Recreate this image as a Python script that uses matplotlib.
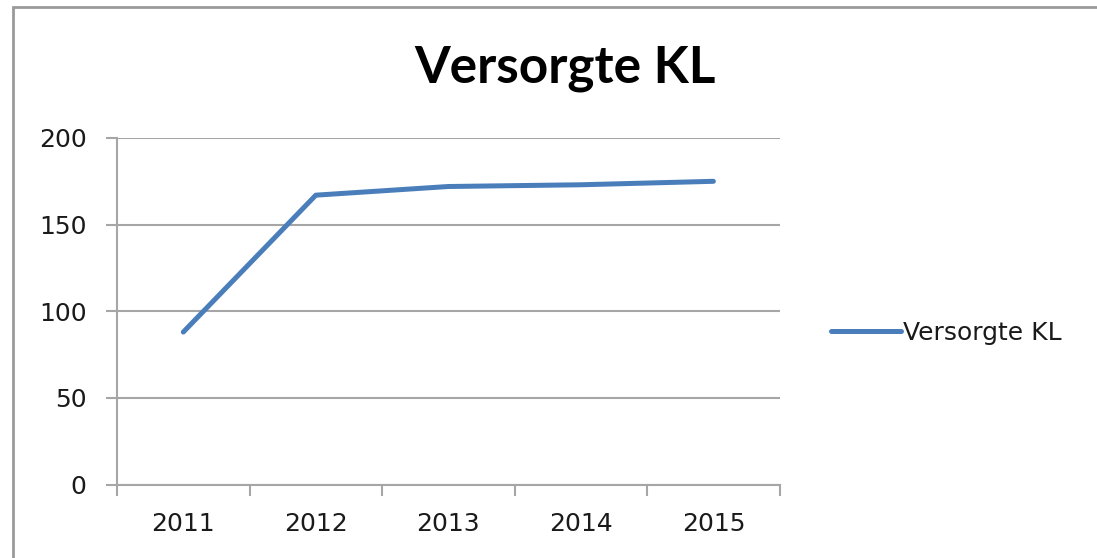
import matplotlib.pyplot as plt
from matplotlib.patches import Rectangle

# data
years = ["2011", "2012", "2013", "2014", "2015"]
versorgte_kl = [88, 167, 172, 173, 175]
y_ticks = [0, 50, 100, 150, 200]

line_color = "#4A7EBB"
grid_color = "#A6A6A6"
text_color = "#1A1A1A"

fig = plt.figure(figsize=(10.97, 5.58), dpi=100)
ax = fig.add_axes([0.1067, 0.1317, 0.604, 0.621])

x = list(range(len(years)))
ax.plot(x, versorgte_kl, color=line_color, lw=3.6, solid_capstyle="round",
        solid_joinstyle="round", label="Versorgte KL")

ax.set_xlim(-0.5, len(years) - 0.5)
ax.set_ylim(0, 200)
ax.set_yticks(y_ticks)
ax.set_xticks(x)
ax.set_xticklabels(years)
ax.set_xticks([i - 0.5 for i in range(len(years) + 1)], minor=True)

ax.grid(axis="y", color=grid_color, lw=1.5)
ax.set_axisbelow(True)
for s in ["top", "right"]:
    ax.spines[s].set_visible(False)
for s in ["left", "bottom"]:
    ax.spines[s].set_color(grid_color)
    ax.spines[s].set_linewidth(1.5)

ax.tick_params(axis="x", which="major", length=0, pad=20, labelsize=18)
ax.tick_params(axis="x", which="minor", length=8, width=1.5, color=grid_color)
ax.tick_params(axis="y", length=8, width=1.5, color=grid_color, pad=14, labelsize=18)
for lbl in ax.get_xticklabels() + ax.get_yticklabels():
    lbl.set_color(text_color)

fig.text(0.515, 0.878, "Versorgte KL", ha="center", va="center",
         fontsize=37, fontweight="bold", family="Lato", color="black")

leg = fig.legend(loc="center left", bbox_to_anchor=(0.737, 0.403), frameon=False,
                 fontsize=18, handlelength=2.8, handletextpad=0.1)
for t in leg.get_texts():
    t.set_color(text_color)

# chart border (left/top visible)
fig.patches.append(Rectangle((13 / 1097, -0.1), 1.2, 1 - 7 / 558 + 0.1,
                             transform=fig.transFigure, fill=False,
                             edgecolor="#9A9A9A", lw=2))

fig.savefig("out.png", dpi=100)
